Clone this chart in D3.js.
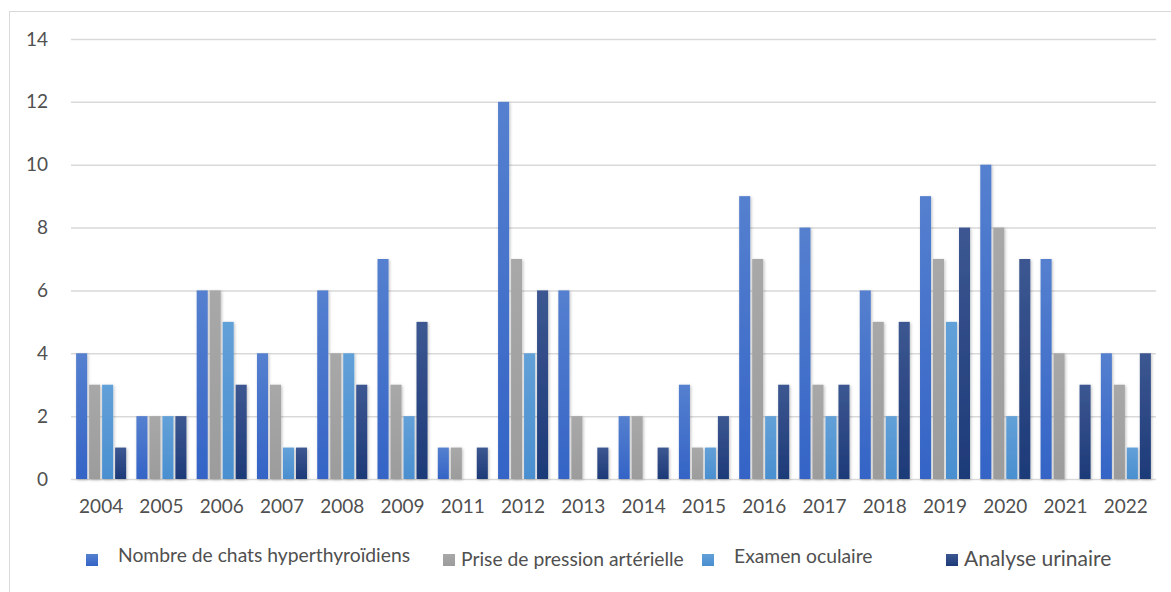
<!DOCTYPE html>
<html>
<head>
<meta charset="utf-8">
<script src="https://cdn.jsdelivr.net/npm/d3@7"></script>
<style>
  html, body { margin: 0; padding: 0; background: #fff; }
  svg { display: block; font-family: Lato, "Open Sans", sans-serif; }
</style>
</head>
<body>
<svg id="chart" width="1171" height="592"></svg>
<script>
const years = ["2004","2005","2006","2007","2008","2009","2011","2012","2013","2014","2015","2016","2017","2018","2019","2020","2021","2022"];
const seriesNames = ["Nombre de chats hyperthyroïdiens","Prise de pression artérielle","Examen oculaire","Analyse urinaire"];
const chats     = [4,2,6,4,6,7,1,12,6,2,3,9,8,6,9,10,7,4];
const pression  = [3,2,6,3,4,3,1,7,2,2,1,7,3,5,7,8,4,3];
const oculaire  = [3,2,5,1,4,2,0,4,0,0,1,2,2,2,5,2,0,1];
const urinaire  = [1,2,3,1,3,5,1,6,1,1,2,3,3,5,8,7,3,4];
const yTicks = [0,2,4,6,8,10,12,14];

const seriesValues = [chats, pression, oculaire, urinaire];
const gradStops = [["#5580cf","#3464c6"],["#a8a8a8","#9c9c9c"],["#62a0d8","#4a8fd0"],["#3c5791","#1d3a78"]];

const svg = d3.select("#chart");
const defs = svg.append("defs");
gradStops.forEach((g,i)=>{
  const lg = defs.append("linearGradient").attr("id","g"+i).attr("x1",0).attr("y1",0).attr("x2",0).attr("y2",1);
  lg.append("stop").attr("offset","0%").attr("stop-color",g[0]);
  lg.append("stop").attr("offset","100%").attr("stop-color",g[1]);
});
const f = defs.append("filter").attr("id","sh").attr("x","-50%").attr("y","-10%").attr("width","200%").attr("height","120%");
f.append("feDropShadow").attr("dx",1).attr("dy",1).attr("stdDeviation",1.8).attr("flood-color","#000").attr("flood-opacity",0.25);

// frame
svg.append("line").attr("x1",9).attr("x2",1171).attr("y1",11.5).attr("y2",11.5).attr("stroke","#d9d9d9");
svg.append("line").attr("x1",9.5).attr("x2",9.5).attr("y1",11).attr("y2",592).attr("stroke","#d9d9d9");

const x = d3.scaleBand().domain(years).range([71,1156]).paddingInner(0.17).paddingOuter(0.085);
const xs = d3.scaleBand().domain(d3.range(4)).range([0,x.bandwidth()]).paddingInner(0.15);
const y = d3.scaleLinear().domain([0,14]).range([479,39]);

// gridlines
const yAxis = d3.axisLeft(y).tickValues(yTicks).tickSize(-(1156-71)).tickFormat(d3.format("d")).tickPadding(23);
const gy = svg.append("g").attr("transform","translate(71,0)").call(yAxis);
gy.select(".domain").remove();
gy.selectAll(".tick line").attr("stroke","#d9d9d9").attr("stroke-width",1.5);
gy.selectAll(".tick text").attr("fill","#505050").style("font-size","19px").style("font-family","Lato, sans-serif");

// bars
const groups = svg.append("g").selectAll("g").data(years).join("g")
  .attr("transform",d=>`translate(${x(d)},0)`);
groups.selectAll("rect").data((d,i)=>seriesValues.map((s,k)=>({k, v:s[i]})).filter(e=>e.v>0)).join("rect")
  .attr("x",e=>xs(e.k)).attr("width",xs.bandwidth())
  .attr("y",e=>y(e.v)).attr("height",e=>y(0)-y(e.v))
  .attr("fill",e=>`url(#g${e.k})`).attr("filter","url(#sh)");

// x axis labels
const xAxis = d3.axisBottom(x).tickSize(0).tickPadding(21);
const gx = svg.append("g").attr("transform","translate(0,479)").call(xAxis);
gx.select(".domain").remove();
gx.selectAll(".tick text").attr("fill","#505050").style("font-size","19px").style("font-family","Lato, sans-serif");

// legend
const legX = [86,443,702,946];
const legTX = [118,461,734,964];
const leg = svg.append("g").selectAll("g").data(seriesNames).join("g");
leg.append("rect").attr("x",(d,i)=>legX[i]).attr("y",554).attr("width",12).attr("height",12)
  .attr("fill",(d,i)=>`url(#g${i})`);
leg.append("text").attr("x",(d,i)=>legTX[i]).attr("y",(d,i)=>[562,566,563,566][i])
  .attr("fill","#505050").style("font-size",(d,i)=>i===3?"21px":"19.3px").text(d=>d);
</script>
</body>
</html>
